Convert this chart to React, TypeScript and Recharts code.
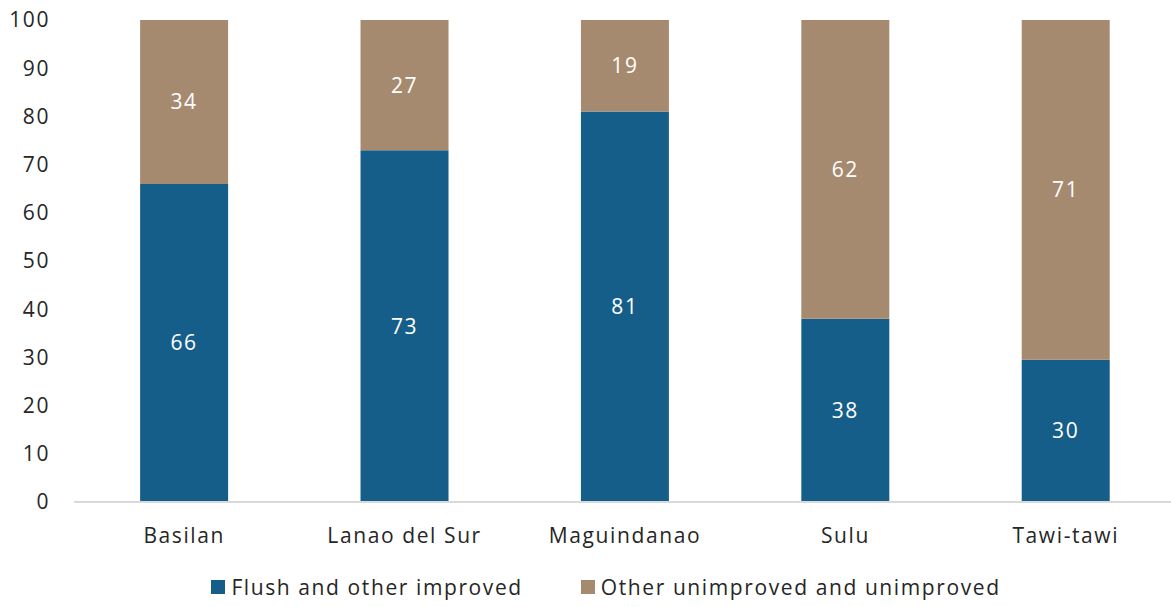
import { BarChart, Bar, XAxis, YAxis, Legend, LabelList } from 'recharts';

const provinces = ['Basilan', 'Lanao del Sur', 'Maguindanao', 'Sulu', 'Tawi-tawi'];
const improved = [66, 73, 81, 38, 29.5];
const unimproved = [34, 27, 19, 62, 70.5];
const yTicks = [0, 10, 20, 30, 40, 50, 60, 70, 80, 90, 100];

const data = provinces.map((name, i) => ({
  name,
  improved: improved[i],
  unimproved: unimproved[i],
}));

const font = '"Open Sans", Lato, sans-serif';
const BLUE = '#165e8a';
const BROWN = '#a68a70';
const TEXT = '#262626';

const textStyle = { fontSize: 21, fontFamily: font, letterSpacing: 1.6 };

// legend drawn by hand so the spacing matches
const renderLegend = (props: any) => {
  const { payload } = props;
  return (
    <div style={{ display: 'flex', justifyContent: 'center', alignItems: 'center', paddingLeft: 36 }}>
      {payload.map((entry: any, i: number) => (
        <div
          key={entry.value}
          style={{ display: 'flex', alignItems: 'center', marginRight: i === 0 ? 58 : 0 }}
        >
          <span style={{ width: 14, height: 14, background: entry.color, marginRight: 6, display: 'inline-block' }} />
          <span style={{ ...textStyle, color: TEXT }}>{entry.value}</span>
        </div>
      ))}
    </div>
  );
};

export default function App() {
  return (
    <div style={{ position: 'absolute', left: 0, top: 0, fontFamily: font }}>
      <BarChart
        width={1171}
        height={607}
        data={data}
        margin={{ top: 20, right: -5, bottom: 0, left: 0 }}
        barCategoryGap="30%"
      >
        <XAxis
          dataKey="name"
          axisLine={{ stroke: '#d9d9d9', strokeWidth: 2 }}
          tickLine={false}
          height={71}
          tickMargin={20}
          tick={{ fill: TEXT, ...textStyle }}
        />
        <YAxis
          domain={[0, 100]}
          ticks={yTicks}
          axisLine={false}
          tickLine={false}
          width={74}
          tickMargin={18}
          tick={{ fill: TEXT, ...textStyle }}
        />
        <Legend verticalAlign="bottom" height={34} content={renderLegend} />
        <Bar dataKey="improved" name="Flush and other improved" stackId="a" fill={BLUE} isAnimationActive={false}>
          <LabelList
            dataKey="improved"
            position="center"
            formatter={(v) => Math.round(Number(v))}
            style={{ fill: '#ffffff', ...textStyle }}
          />
        </Bar>
        <Bar dataKey="unimproved" name="Other unimproved and unimproved" stackId="a" fill={BROWN} isAnimationActive={false}>
          <LabelList
            dataKey="unimproved"
            position="center"
            formatter={(v) => Math.round(Number(v))}
            style={{ fill: '#ffffff', ...textStyle }}
          />
        </Bar>
      </BarChart>
    </div>
  );
}
